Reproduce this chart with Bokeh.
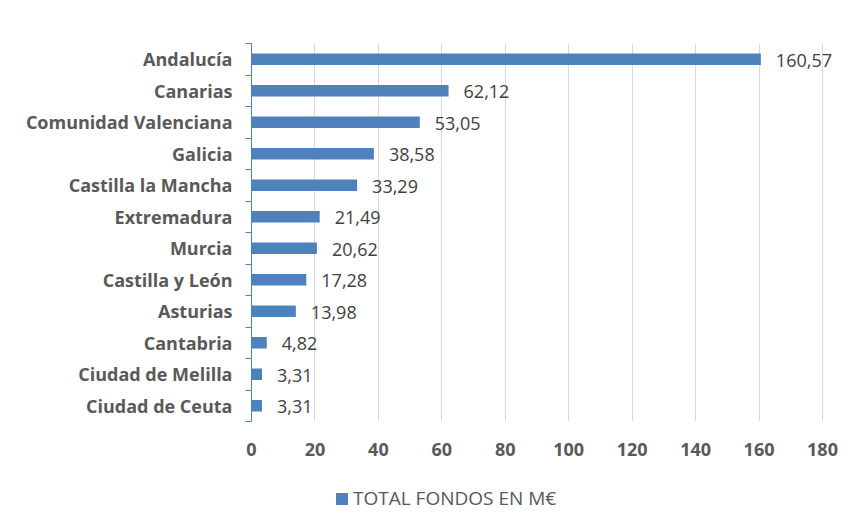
from bokeh.plotting import figure
from bokeh.layouts import column
from bokeh.models import (ColumnDataSource, Range1d, FixedTicker, LabelSet, Legend, LegendItem)
from bokeh.core.properties import value
from bokeh.embed import file_html
from bokeh.resources import INLINE

regions = ["Andalucía", "Canarias", "Comunidad Valenciana", "Galicia", "Castilla la Mancha",
           "Extremadura", "Murcia", "Castilla y León", "Asturias", "Cantabria",
           "Ciudad de Melilla", "Ciudad de Ceuta"]
values = [160.57, 62.12, 53.05, 38.58, 33.29, 21.49, 20.62, 17.28, 13.98, 4.82, 3.31, 3.31]
value_labels = ["160,57", "62,12", "53,05", "38,58", "33,29", "21,49", "20,62", "17,28",
                "13,98", "4,82", "3,31", "3,31"]
x_ticks = [0, 20, 40, 60, 80, 100, 120, 140, 160, 180]
series_name = "TOTAL FONDOS EN M€"

n = len(regions)
ypos = [n - 0.5 - i for i in range(n)]
src = ColumnDataSource(dict(y=ypos, v=values, lab=value_labels, name=regions))

BLUE = "#4f81bd"
FONT = "Open Sans"

p = figure(width=846, height=470, output_backend="svg", toolbar_location=None,
           x_range=Range1d(0, 187.57), y_range=Range1d(0, n),
           min_border_left=251, min_border_right=0, min_border_top=43, min_border_bottom=49)
p.outline_line_color = None
p.background_fill_color = "white"
p.border_fill_color = "white"

r = p.hbar(y="y", right="v", left=0, height=0.36, source=src, fill_color=BLUE, line_color=None)

# x axis
p.xaxis.ticker = FixedTicker(ticks=x_ticks)
p.xaxis.axis_line_color = None
p.xaxis.major_tick_line_color = None
p.xaxis.minor_tick_line_color = None
p.xaxis.major_label_text_font = FONT
p.xaxis.major_label_text_font_style = "bold"
p.xaxis.major_label_text_font_size = "18px"
p.xaxis.major_label_text_color = "#595959"
p.xaxis.major_label_standoff = 15

# y axis
p.yaxis.ticker = FixedTicker(ticks=ypos, minor_ticks=list(range(n + 1)))
p.yaxis.major_label_overrides = {y: nm for y, nm in zip(ypos, regions)}
p.yaxis.axis_line_color = BLUE
p.yaxis.major_tick_line_color = None
p.yaxis.minor_tick_line_color = BLUE
p.yaxis.minor_tick_in = 0
p.yaxis.minor_tick_out = 6
p.yaxis.major_label_text_font = FONT
p.yaxis.major_label_text_font_style = "bold"
p.yaxis.major_label_text_font_size = "18px"
p.yaxis.major_label_text_color = "#595959"
p.yaxis.major_label_standoff = 13

p.xgrid.ticker = FixedTicker(ticks=x_ticks)
p.xgrid.grid_line_color = "#d9d9d9"
p.ygrid.grid_line_color = None

labels = LabelSet(x="v", y="y", text="lab", source=src, x_offset=15, y_offset=-1,
                  text_baseline="middle", text_font=value(FONT), text_font_size=value("18px"),
                  text_color="#404040")
p.add_layout(labels)

# legend strip below the chart (same series, ranged away so only the swatch shows)
p2 = figure(width=846, height=51, output_backend="svg", toolbar_location=None,
            x_range=Range1d(-2000, -1000), y_range=Range1d(1000, 1001),
            min_border_left=251, min_border_right=0, min_border_top=0, min_border_bottom=0)
p2.axis.visible = False
p2.grid.visible = False
p2.outline_line_color = None
p2.background_fill_color = "white"
p2.border_fill_color = "white"
ghost = p2.hbar(y="y", right="v", left=0, height=0.36, source=src, fill_color=BLUE, line_color=None)
legend = Legend(items=[LegendItem(label=series_name, renderers=[ghost])],
                location=(83, 10), orientation="horizontal",
                padding=0, margin=0, border_line_color=None, background_fill_alpha=0,
                glyph_width=15, glyph_height=15, label_standoff=4, label_height=15,
                label_text_font=FONT, label_text_font_size="19px", label_text_color="#595959")
p2.add_layout(legend, "center")

layout = column(p, p2, spacing=0)
open("out.html", "w").write(file_html(layout, INLINE))
